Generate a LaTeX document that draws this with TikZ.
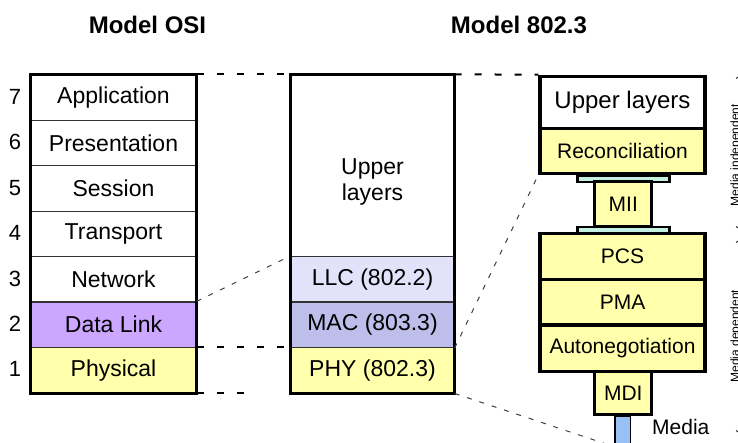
\documentclass[tikz,border=0pt]{standalone}
\usepackage{fontspec}
\setmainfont{Liberation Sans}
\usetikzlibrary{arrows.meta,calc}

\definecolor{linkpurple}{RGB}{204,166,255}
\definecolor{phyyellow}{RGB}{255,255,172}
\definecolor{llcblue}{RGB}{226,226,250}
\definecolor{macblue}{RGB}{190,190,234}
\definecolor{miiteal}{RGB}{196,240,228}
\definecolor{mediablue}{RGB}{152,192,245}

\begin{document}
\begin{tikzpicture}[
  x=1pt,y=-1pt,
  layer/.style={draw=black!80,line width=1.3pt,minimum width=165pt,minimum height=45.4pt,
                inner sep=0pt,font=\fontsize{23}{26}\selectfont},
  sub/.style={draw=black,line width=3.5pt,fill=phyyellow,minimum width=165pt,
              inner sep=0pt,font=\fontsize{21}{24}\selectfont},
  bar/.style={draw=black,line width=2.4pt,fill=miiteal,minimum width=92pt,
              minimum height=6pt,inner sep=0pt},
  num/.style={font=\fontsize{22}{24}\selectfont,inner sep=0pt},
  title/.style={font=\fontsize{24}{26}\selectfont\bfseries},
  bond/.style={dash pattern=on 7pt off 13pt,line width=2pt},
  slant/.style={dash pattern=on 5pt off 8pt,line width=1pt,black!75},
]
\useasboundingbox (0,0) rectangle (738,442);
\clip (0,0) rectangle (738,442);

% ---- titles -------------------------------------------------------------
\node[title] (tosi) at (147.5,25) {Model OSI};
\node[title] (tieee) at (519,25) {Model 802.3};

% ---- OSI stack ------------------------------------------------------------
\node[layer] (osi7) at (113.5,97.7) {Application};
\node[layer] (osi6) at (113.5,143.1) {Presentation};
\node[layer] (osi5) at (113.5,188.5) {Session};
\node[layer] (osi4) at (113.5,233.9) {Transport};
\node[layer] (osi3) at (113.5,279.3) {Network};
\node[layer,fill=linkpurple] (osi2) at (113.5,324.7) {Data Link};
\node[layer,fill=phyyellow] (osi1) at (113.5,370.1) {Physical};
\draw[line width=3.2pt] (osi7.north west) rectangle (osi1.south east);
% layer numbers
\node[num] (n7) at (15,97) {7};
\node[num] (n6) at (15,142.4) {6};
\node[num] (n5) at (15,187.8) {5};
\node[num] (n4) at (15,233.2) {4};
\node[num] (n3) at (15,278.6) {3};
\node[num] (n2) at (15,324) {2};
\node[num] (n1) at (15,369.4) {1};

% ---- 802.3 stack ----------------------------------------------------------
\node[layer,minimum width=163pt,minimum height=181.6pt] (upper) at (372.5,165.8) {};
\node[layer,draw=none,align=center] (uppertxt) at (372.5,182) {Upper\\layers};
\node[layer,minimum width=163pt,fill=llcblue] (llc) at (372.5,279.3) {LLC (802.2)};
\node[layer,minimum width=163pt,fill=macblue] (mac) at (372.5,324.7) {MAC (803.3)};
\node[layer,minimum width=163pt,fill=phyyellow] (phy) at (372.5,370.1) {PHY (802.3)};
\draw[line width=3.2pt] (upper.north west) rectangle (phy.south east);

% ---- physical sublayers -------------------------------------------------
\node[sub,fill=white,minimum height=52pt,font=\fontsize{24}{26}\selectfont] (rup) at (622.5,102.4) {Upper layers};
\node[sub,minimum height=45pt] (rec) at (622.5,150.8) {Reconciliation};
\node[bar] (bar1) at (623.5,178.8) {};
\node[sub,minimum width=56.7pt,minimum height=45pt,line width=3pt] (mii) at (623.3,204.2) {MII};
\node[bar] (bar2) at (623.5,229.7) {};
\node[sub,minimum height=46pt] (pcs) at (622.5,256.3) {PCS};
\node[sub,minimum height=45.7pt] (pma) at (622.5,302.2) {PMA};
\node[sub,minimum height=46.7pt] (aneg) at (622.5,348.3) {Autonegotiation};
\node[sub,minimum width=56.7pt,minimum height=43.3pt,line width=3pt] (mdi) at (623.3,393.3) {MDI};
\node[draw=black,line width=1.5pt,fill=mediablue,minimum width=15.7pt,minimum height=29.3pt,
      inner sep=0pt] (media) at (622.8,431.3) {};
\node[anchor=west,inner sep=0pt,font=\fontsize{21}{24}\selectfont] (medtxt) at (652,427) {Media};

% ---- mapping between the models ---------------------------------------
\draw[bond] (osi7.north east) -- (upper.north west);
\draw[bond] (upper.north east) -- (rup.north west);
\draw[bond] (osi1.north east) -- (phy.north west);
\coordinate (osiend) at ($(osi1.south east)+(60,0)$);
\draw[bond] (osi1.south east) -- (osiend);
\draw[slant] (osi2.north east) -- (llc.north west);
\draw[slant] (mac.south east) -- (rec.south west);
\draw[slant] (phy.south east) -- (media.south west);

% ---- media independent / dependent span --------------------------------
\node[rotate=90,inner sep=0pt,font=\fontsize{12}{14}\selectfont] (indep) at (736,155) {Media independent};
\node[rotate=90,inner sep=0pt,font=\fontsize{12}{14}\selectfont] (dep) at (736,336) {Media dependent};
\coordinate (i1) at (743,73);
\coordinate (i2) at (743,232);
\coordinate (d1) at (743,237);
\coordinate (d2) at (743,436);
\draw[{Straight Barb[length=5pt,width=14pt]}-{Straight Barb[length=5pt,width=14pt]},line width=0.8pt] (i1) -- (i2);
\draw[{Straight Barb[length=5pt,width=14pt]}-{Straight Barb[length=5pt,width=14pt]},line width=0.8pt] (d1) -- (d2);
\end{tikzpicture}
\end{document}
